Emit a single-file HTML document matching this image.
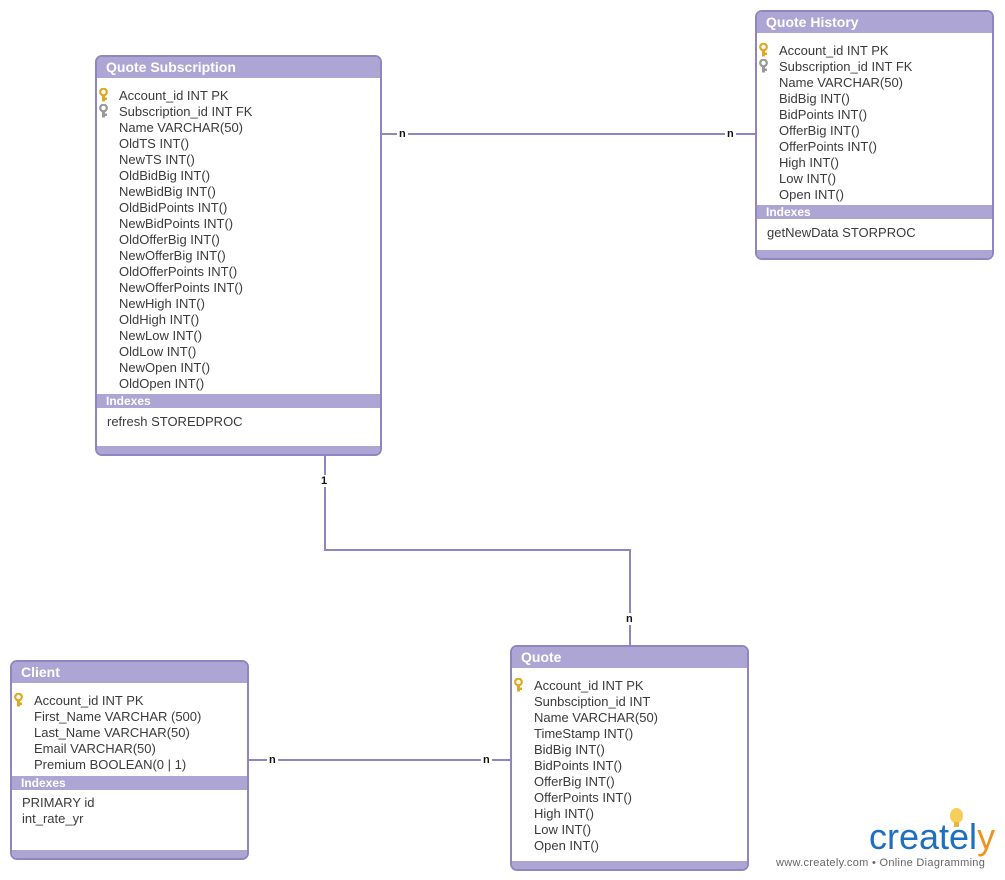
<!DOCTYPE html>
<html><head><meta charset="utf-8"><style>
*{margin:0;padding:0;box-sizing:border-box}
body{width:1005px;height:880px;background:#fff;position:relative;overflow:hidden;font-family:"Liberation Sans",sans-serif;color:#3a3a3a}
.t{position:absolute;border:2px solid #8e86c0;border-radius:7px;background:#fff;overflow:hidden}
.h{position:absolute;left:0;right:0;top:0;height:21px;background:#ada5d4;color:#fff;font-weight:bold;font-size:14px;line-height:21px;padding-left:9px}
.r{position:absolute;font-size:13px;line-height:16px;white-space:nowrap}
.ix{position:absolute;left:0;right:0;height:14px;background:#ada5d4;color:#fff;font-weight:bold;font-size:12px;line-height:14px;padding-left:9px}
.ft{position:absolute;left:0;right:0;bottom:0;height:8px;background:#ada5d4}
.k{position:absolute;width:9px;height:14px}
.ln{position:absolute;background:#8e86c0}
.lb{position:absolute;background:#fff;font-size:11px;font-weight:bold;color:#111;line-height:12px;padding:0 2px}
</style></head><body>
<svg width="0" height="0" style="position:absolute"><defs>
<g id="kg"><circle cx="4.5" cy="4" r="3.3" fill="none" stroke-width="2.2"/><rect x="3.5" y="7" width="2" height="6"/><rect x="5" y="10" width="2.5" height="1.5"/></g></defs></svg>

<div class="ln" style="left:381px;top:133px;width:375px;height:2px"></div>
<div class="lb" style="left:397px;top:128px">n</div>
<div class="lb" style="left:725px;top:128px">n</div>
<div class="ln" style="left:324px;top:455px;width:2px;height:96px"></div>
<div class="ln" style="left:324px;top:549px;width:307px;height:2px"></div>
<div class="ln" style="left:629px;top:549px;width:2px;height:97px"></div>
<div class="lb" style="left:319px;top:475px">1</div>
<div class="lb" style="left:624px;top:613px">n</div>
<div class="ln" style="left:248px;top:759px;width:263px;height:2px"></div>
<div class="lb" style="left:267px;top:754px">n</div>
<div class="lb" style="left:481px;top:754px">n</div>

<div class="t" style="left:95px;top:55px;width:287px;height:401px">
<div class="h">Quote Subscription</div>
<svg class="k" style="left:2px;top:31px" viewBox="0 0 9 14" fill="#e0a820" stroke="#e0a820"><use href="#kg"/></svg>
<svg class="k" style="left:2px;top:47px" viewBox="0 0 9 14" fill="#999" stroke="#999"><use href="#kg"/></svg>
<div class="r" style="left:22px;top:31px">Account_id INT PK<br>Subscription_id INT FK<br>Name VARCHAR(50)<br>OldTS INT()<br>NewTS INT()<br>OldBidBig INT()<br>NewBidBig INT()<br>OldBidPoints INT()<br>NewBidPoints INT()<br>OldOfferBig INT()<br>NewOfferBig INT()<br>OldOfferPoints INT()<br>NewOfferPoints INT()<br>NewHigh INT()<br>OldHigh INT()<br>NewLow INT()<br>OldLow INT()<br>NewOpen INT()<br>OldOpen INT()</div>
<div class="ix" style="top:337px">Indexes</div>
<div class="r" style="left:10px;top:357px">refresh STOREDPROC</div>
<div class="ft"></div>
</div>

<div class="t" style="left:755px;top:10px;width:239px;height:250px">
<div class="h">Quote History</div>
<svg class="k" style="left:2px;top:31px" viewBox="0 0 9 14" fill="#e0a820" stroke="#e0a820"><use href="#kg"/></svg>
<svg class="k" style="left:2px;top:47px" viewBox="0 0 9 14" fill="#999" stroke="#999"><use href="#kg"/></svg>
<div class="r" style="left:22px;top:31px">Account_id INT PK<br>Subscription_id INT FK<br>Name VARCHAR(50)<br>BidBig INT()<br>BidPoints INT()<br>OfferBig INT()<br>OfferPoints INT()<br>High INT()<br>Low INT()<br>Open INT()</div>
<div class="ix" style="top:193px">Indexes</div>
<div class="r" style="left:10px;top:213px">getNewData STORPROC</div>
<div class="ft"></div>
</div>

<div class="t" style="left:10px;top:660px;width:239px;height:200px">
<div class="h">Client</div>
<svg class="k" style="left:2px;top:31px" viewBox="0 0 9 14" fill="#e0a820" stroke="#e0a820"><use href="#kg"/></svg>
<div class="r" style="left:22px;top:31px">Account_id INT PK<br>First_Name VARCHAR (500)<br>Last_Name VARCHAR(50)<br>Email VARCHAR(50)<br>Premium BOOLEAN(0 | 1)</div>
<div class="ix" style="top:114px">Indexes</div>
<div class="r" style="left:10px;top:133px">PRIMARY id<br>int_rate_yr</div>
<div class="ft"></div>
</div>

<div class="t" style="left:510px;top:645px;width:239px;height:226px">
<div class="h">Quote</div>
<svg class="k" style="left:2px;top:31px" viewBox="0 0 9 14" fill="#e0a820" stroke="#e0a820"><use href="#kg"/></svg>
<div class="r" style="left:22px;top:31px">Account_id INT PK<br>Sunbsciption_id INT<br>Name VARCHAR(50)<br>TimeStamp INT()<br>BidBig INT()<br>BidPoints INT()<br>OfferBig INT()<br>OfferPoints INT()<br>High INT()<br>Low INT()<br>Open INT()</div>
<div class="ft"></div>
</div>

<div style="position:absolute;left:950px;top:808px;width:13px;height:15px;border-radius:50% 50% 45% 45%;background:#f5cf5a"></div>
<div style="position:absolute;left:954px;top:822px;width:5px;height:5px;background:#e8b83c"></div>
<div style="position:absolute;left:869px;top:816px;font-size:36px;line-height:42px;color:#1f6fbf;letter-spacing:0px">createl<span style="color:#f0921e">y</span></div>
<div style="position:absolute;left:776px;top:857px;font-size:11px;color:#666;white-space:nowrap;letter-spacing:0.3px">www.creately.com • Online Diagramming</div>
</body></html>
